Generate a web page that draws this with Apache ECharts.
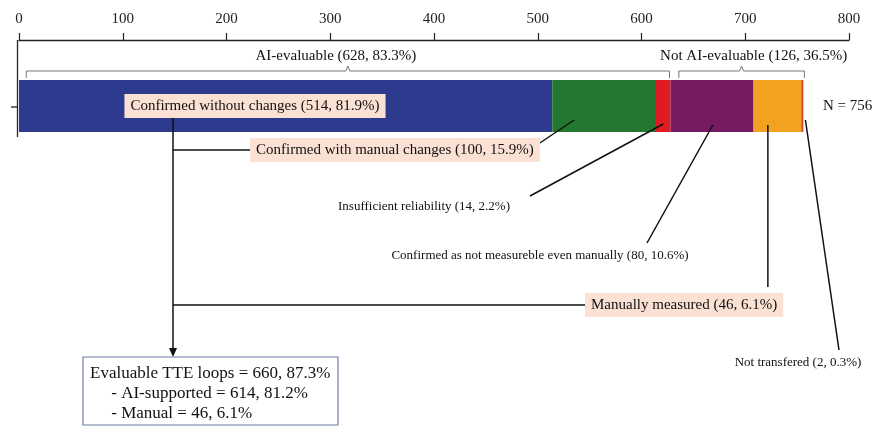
<!DOCTYPE html>
<html><head><meta charset="utf-8">
<script src="https://cdn.jsdelivr.net/npm/echarts@6/dist/echarts.min.js"></script>
<style>html,body{margin:0;padding:0;background:#fff}#c{width:885px;height:426px}</style>
</head><body><div id="c"></div>
<script>
// ---- data ----
const categories = ['Confirmed without changes', 'Confirmed with manual changes', 'Insufficient reliability', 'Confirmed as not measureble even manually', 'Manually measured', 'Not transfered'];
const counts = [514, 100, 14, 80, 46, 2];
const percents = ['81.9%', '15.9%', '2.2%', '10.6%', '6.1%', '0.3%'];
const groupNames = ['AI-evaluable', 'Not AI-evaluable'];
const groupCounts = [628, 126];
const groupPercents = ['83.3%', '36.5%'];
const totalN = 756;
const summaryLabels = ['Evaluable TTE loops', 'AI-supported', 'Manual'];
const summaryCounts = [660, 614, 46];
const summaryPercents = ['87.3%', '81.2%', '6.1%'];
const axisMin = 0, axisMax = 800, axisStep = 100;

// ---- styles ----
const colors = ['#2E3A8D', '#23772F', '#E11B22', '#761A62', '#F3A121', '#D9452E'];
const FONT = "'Liberation Serif','Times New Roman',serif";
const PEACH = '#FAE1D3';

const chart = echarts.init(document.getElementById('c'), null, {renderer: 'canvas'});
const series = categories.map((name, i) => ({
  name, type: 'bar', stack: 'total', data: [counts[i]], barWidth: 52,
  itemStyle: {color: colors[i]}, silent: true, animation: false
}));
chart.setOption({
  animation: false,
  grid: {left: 19, right: 36, top: 40, height: 132},
  xAxis: {
    type: 'value', position: 'top', min: axisMin, max: axisMax, interval: axisStep,
    axisLine: {show: true, lineStyle: {color: '#222', width: 1.3}},
    axisTick: {show: true, length: 7, lineStyle: {color: '#222', width: 1.2}},
    axisLabel: {color: '#222', fontFamily: FONT, fontSize: 15, margin: 13},
    splitLine: {show: false}
  },
  yAxis: {type: 'category', data: [''], axisLine: {show: false}, axisTick: {show: false}, axisLabel: {show: false}},
  series
});

function measure(text, size) {
  const c = document.createElement('canvas').getContext('2d');
  c.font = size + 'px ' + FONT;
  return c.measureText(text).width;
}
const P = (v) => chart.convertToPixel({xAxisIndex: 0, yAxisIndex: 0}, [v, 0]);
const starts = []; counts.reduce((a, c, i) => (starts[i] = a, a + c), 0);
const yC = P(0)[1];
const barBot = yC + 26;
const x0 = P(0)[0];
const lbl = (i) => `${categories[i]} (${counts[i]}, ${percents[i]})`;

const g = [];
const line = (x1, y1, x2, y2, extra) => g.push(Object.assign({type: 'line', shape: {x1, y1, x2, y2}, style: {stroke: '#111', lineWidth: 1.5}, z: 100}, extra || {}));
const text = (x, y, t, size, align, extra) => g.push({type: 'text', x, y, z: 110, style: Object.assign({text: t, font: size + 'px ' + FONT, fill: '#111', align: align || 'center', verticalAlign: 'middle'}, extra || {})});

// left axis line + tick
line(x0 - 1.5, 40, x0 - 1.5, barBot + 5, {style: {stroke: '#222', lineWidth: 1.3}});
line(x0 - 8, yC + 1, x0 - 1.5, yC + 1, {style: {stroke: '#222', lineWidth: 1.3}});

// brackets (span in data units, tip at middle)
const brackets = [[7, 627], [636, 757]];
const groupLabelDx = [-12, 12];
brackets.forEach((b, i) => {
  const xa = P(b[0])[0], xb = P(b[1])[0], xm = (xa + xb) / 2;
  g.push({type: 'polyline', z: 100, shape: {points: [[xa, 78], [xa, 71], [xm - 2, 71], [xm, 66], [xm + 2, 71], [xb, 71], [xb, 78]]}, style: {stroke: '#777', lineWidth: 1, fill: null}});
  text(xm + groupLabelDx[i], 56, `${groupNames[i]} (${groupCounts[i]}, ${groupPercents[i]})`, 15, 'center');
});

// N
text(823, yC, 'N = ' + totalN, 15, 'left');

// label boxes
const boxStyle = {backgroundColor: PEACH, padding: [5, 6, 4, 6]};
text(255, yC, lbl(0), 15, 'center', boxStyle);
text(250, 150, lbl(1), 15, 'left', boxStyle);
text(585, 305, lbl(4), 15, 'left', boxStyle);
const w1 = measure(lbl(1), 15) + 12;

// connector from label 0
const cx = 173;
line(cx, yC + 12, cx, 350);
g.push({type: 'polygon', z: 100, shape: {points: [[cx - 4, 348], [cx + 4, 348], [cx, 357]]}, style: {fill: '#111'}});
line(cx, 150, 250, 150);
line(cx, 305, 585, 305);

// pointer lines into the bar
const anchor = (i, frac) => P(starts[i] + counts[i] * frac)[0];
line(250 + w1, 143, anchor(1, 0.21), yC + 14);
text(424, 207, lbl(2), 13, 'center');
line(530, 196, anchor(2, 0.5), yC + 18);
text(540, 256, lbl(3), 13, 'center');
line(647, 243, anchor(3, 0.51), yC + 19);
line(anchor(4, 0.3), yC + 19, anchor(4, 0.3), 287);
text(798, 363, lbl(5), 13, 'center');
line(P(starts[5] + counts[5] * 2)[0], yC + 14, 839, 350);

// summary box
const sumText = [
  `${summaryLabels[0]} = ${summaryCounts[0]}, ${summaryPercents[0]}`,
  `     - ${summaryLabels[1]} = ${summaryCounts[1]}, ${summaryPercents[1]}`,
  `     - ${summaryLabels[2]} = ${summaryCounts[2]}, ${summaryPercents[2]}`
].join('\n');
g.push({type: 'rect', z: 100, shape: {x: 83, y: 357, width: 255, height: 68}, style: {fill: '#fff', stroke: '#6F7DA8', lineWidth: 1.2}});
g.push({type: 'text', x: 90, y: 364, z: 110, style: {text: sumText, font: '17px ' + FONT, fill: '#111', align: 'left', verticalAlign: 'top', lineHeight: 20}});

chart.setOption({graphic: {elements: g}});
</script></body></html>
